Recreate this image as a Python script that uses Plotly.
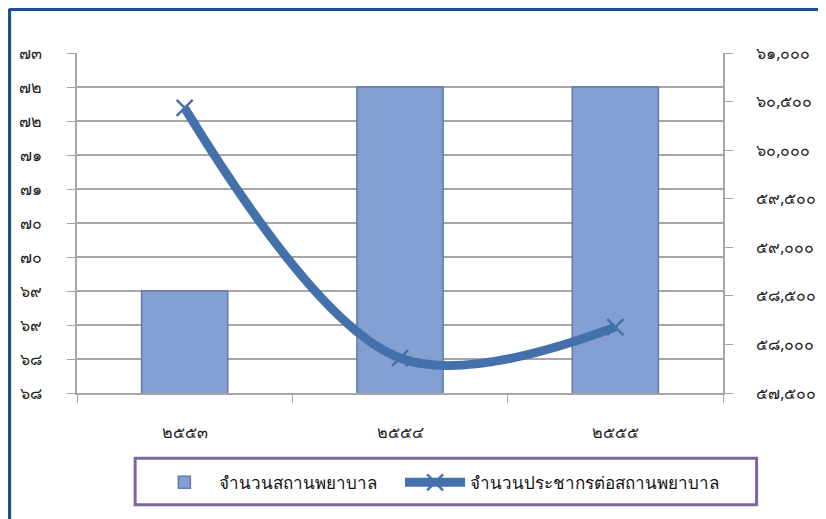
import plotly.graph_objects as go

years = ['๒๕๕๓', '๒๕๕๔', '๒๕๕๕']
hospitals = [69.5, 72.5, 72.5]
pop_per_hospital = [60434, 57860, 58178]

left_vals = [68, 68.5, 69, 69.5, 70, 70.5, 71, 71.5, 72, 72.5, 73]
left_text = ['๖๘', '๖๘', '๖๙', '๖๙', '๗๐', '๗๐', '๗๑', '๗๑', '๗๒', '๗๒', '๗๓']
right_vals = [57500, 58000, 58500, 59000, 59500, 60000, 60500, 61000]
right_text = ['๕๗,๕๐๐', '๕๘,๐๐๐', '๕๘,๕๐๐', '๕๙,๐๐๐', '๕๙,๕๐๐', '๖๐,๐๐๐', '๖๐,๕๐๐', '๖๑,๐๐๐']

bar_name = 'จำนวนสถานพยาบาล'
line_name = 'จำนวนประชากรต่อสถานพยาบาล'

font = 'Tahoma, Noto Sans, DejaVu Sans, sans-serif'
grey = '#A6A6A6'

fig = go.Figure()
# trailing no-break spaces widen the gap between the two legend entries
fig.add_trace(go.Bar(x=years, y=hospitals, name=bar_name + '\u00a0' * 4, width=0.4,
                     marker=dict(color='#84A0D3', line=dict(color='#5F79AB', width=1.5))))
fig.add_trace(go.Scatter(x=years, y=pop_per_hospital, name=line_name, yaxis='y2',
                         mode='lines+markers',
                         line=dict(color='#4470AB', width=9, shape='spline', smoothing=1.0),
                         marker=dict(symbol='x-thin', size=16, color='#4470AB',
                                     line=dict(color='#4470AB', width=2.5))))

# the page body adds an 8px offset, so margins are trimmed to keep the plot area in place
fig.update_layout(
    width=826, height=519,
    margin=dict(l=69, r=111, t=45, b=134),
    paper_bgcolor='white', plot_bgcolor='white',
    font=dict(family=font, size=16, color='#222222'),
    showlegend=True,
    legend=dict(orientation='h', x=0.112, y=-0.264, xanchor='left', yanchor='middle',
                font=dict(size=17, color='#111111'), bgcolor='rgba(0,0,0,0)',
                itemwidth=60),
    xaxis=dict(type='category', tickson='boundaries', ticks='outside', ticklen=8,
               tickcolor=grey, showline=True, linecolor=grey, linewidth=2,
               showgrid=False, ticklabelstandoff=24, tickfont=dict(size=16)),
    yaxis=dict(range=[68, 73], tickvals=left_vals, ticktext=left_text,
               showgrid=True, gridcolor=grey, gridwidth=1.5,
               showline=True, linecolor=grey, linewidth=2,
               ticks='outside', ticklen=8, tickcolor=grey, ticklabelstandoff=22,
               zeroline=False, tickfont=dict(size=16)),
    yaxis2=dict(range=[57500, 61000], tickvals=right_vals, ticktext=right_text,
                overlaying='y', side='right', showgrid=False,
                showline=True, linecolor=grey, linewidth=2,
                ticks='outside', ticklen=8, tickcolor=grey, ticklabelstandoff=20,
                zeroline=False, tickfont=dict(size=16)),
    shapes=[
        # outer dark blue frame (left and top edges visible)
        dict(type='line', xref='paper', yref='paper', x0=-0.105, x1=1.2, y0=1.128, y1=1.128,
             line=dict(color='#1F4E8C', width=3)),
        dict(type='line', xref='paper', yref='paper', x0=-0.105, x1=-0.105, y0=1.13, y1=-0.4,
             line=dict(color='#1F4E8C', width=4)),
        # legend box
        dict(type='rect', xref='paper', yref='paper', x0=0.09, x1=1.052, y0=-0.192, y1=-0.329,
             line=dict(color='#8064A2', width=3)),
    ],
)

fig.write_html('out.html')
